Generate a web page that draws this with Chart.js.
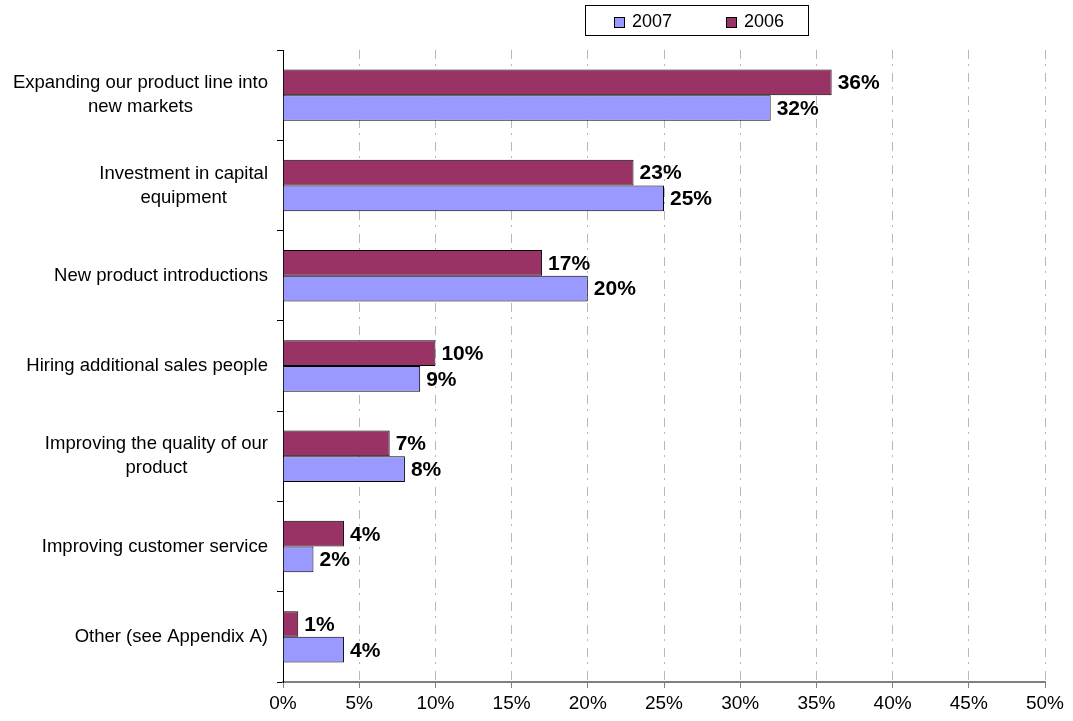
<!DOCTYPE html>
<html>
<head>
<meta charset="utf-8">
<script src="https://cdn.jsdelivr.net/npm/chart.js@4"></script>
<style>
  html, body { margin: 0; padding: 0; background: #fff; }
  #wrap { width: 1073px; height: 721px; }
</style>
</head>
<body>
<div id="wrap"><canvas id="chart" width="1073" height="721"></canvas></div>
<script>
// categories (each one split into its display lines)
const categories = [
  ['Expanding our product line into', 'new markets'],
  ['Investment in capital', 'equipment'],
  ['New product introductions'],
  ['Hiring additional sales people'],
  ['Improving the quality of our', 'product'],
  ['Improving customer service'],
  ['Other (see Appendix A)']
];
const values2006 = [36, 23, 17, 10, 7, 4, 1];
const values2007 = [32, 25, 20, 9, 8, 2, 4];
const xTicks = [0, 5, 10, 15, 20, 25, 30, 35, 40, 45, 50];

const FONT = '"Liberation Sans", Arial, sans-serif';

// left-side category labels: lines centred on each other, block right-aligned
const categoryLabels = {
  id: 'categoryLabels',
  afterDraw(chart) {
    const { ctx, chartArea } = chart;
    const y = chart.scales.y;
    ctx.save();
    ctx.font = '18.5px ' + FONT;
    ctx.fillStyle = '#000';
    ctx.textAlign = 'center';
    ctx.textBaseline = 'middle';
    const lineH = 24;
    categories.forEach((lines, i) => {
      const w = Math.max(...lines.map(l => ctx.measureText(l).width));
      const cx = chartArea.left - 15 - w / 2;
      const cy = y.getPixelForValue(i);
      const top = cy - (lines.length - 1) * lineH / 2;
      lines.forEach((l, k) => ctx.fillText(l, cx, top + k * lineH));
    });
    ctx.restore();
  }
};

// percentage labels at the end of each bar
const valueLabels = {
  id: 'valueLabels',
  afterDatasetsDraw(chart) {
    const { ctx } = chart;
    ctx.save();
    ctx.font = 'bold 21px ' + FONT;
    ctx.fillStyle = '#000';
    ctx.textAlign = 'left';
    ctx.textBaseline = 'middle';
    chart.data.datasets.forEach((ds, di) => {
      chart.getDatasetMeta(di).data.forEach((bar, i) => {
        ctx.fillText(ds.data[i] + '%', bar.x + 6, bar.y + 1);
      });
    });
    ctx.restore();
  }
};

// boxed legend above the plot, 2007 first
const boxLegend = {
  id: 'boxLegend',
  afterDraw(chart) {
    const { ctx } = chart;
    ctx.save();
    ctx.strokeStyle = '#000';
    ctx.lineWidth = 1;
    ctx.strokeRect(585.5, 5.5, 223, 30);
    const items = [
      { text: '2007', color: '#9999FF', x: 614 },
      { text: '2006', color: '#993366', x: 726 }
    ];
    ctx.font = '18px ' + FONT;
    ctx.textBaseline = 'middle';
    ctx.textAlign = 'left';
    items.forEach(it => {
      ctx.fillStyle = it.color;
      ctx.fillRect(it.x, 17, 11, 11);
      ctx.strokeRect(it.x + 0.5, 17.5, 10, 10);
      ctx.fillStyle = '#000';
      ctx.fillText(it.text, it.x + 18, 22);
    });
    ctx.restore();
  }
};

new Chart(document.getElementById('chart').getContext('2d'), {
  type: 'bar',
  data: {
    labels: categories.map(c => c.join(' ')),
    datasets: [
      {
        label: '2006',
        data: values2006,
        backgroundColor: '#993366',
        borderColor: '#000',
        borderWidth: 1,
        categoryPercentage: 0.57,
        barPercentage: 1
      },
      {
        label: '2007',
        data: values2007,
        backgroundColor: '#9999FF',
        borderColor: '#000',
        borderWidth: 1,
        categoryPercentage: 0.57,
        barPercentage: 1
      }
    ]
  },
  options: {
    indexAxis: 'y',
    responsive: false,
    animation: false,
    layout: { padding: { top: 50, right: 28, left: 0, bottom: 0 } },
    plugins: {
      legend: { display: false },
      tooltip: { enabled: false }
    },
    scales: {
      x: {
        min: 0,
        max: 50,
        afterBuildTicks: s => { s.ticks = xTicks.map(v => ({ value: v })); },
        afterFit: s => { s.height = 39; },
        grid: {
          color: '#b8b8b8',
          tickColor: '#808080',
          tickLength: 6,
          tickBorderDash: []
        },
        // in v4 the grid line dash lives under border
        border: { display: true, color: '#808080', width: 2, dash: [9, 5, 2, 7] },
        ticks: {
          color: '#000',
          font: { family: FONT, size: 19 },
          padding: 4,
          maxRotation: 0,
          callback: v => v + '%'
        }
      },
      y: {
        afterFit: s => { s.width = 283; },
        grid: {
          drawOnChartArea: false,
          drawTicks: true,
          tickLength: 6,
          color: '#000',
          offset: true
        },
        border: { display: true, color: '#000', width: 1 },
        ticks: { display: false }
      }
    }
  },
  plugins: [categoryLabels, valueLabels, boxLegend]
});
</script>
</body>
</html>
